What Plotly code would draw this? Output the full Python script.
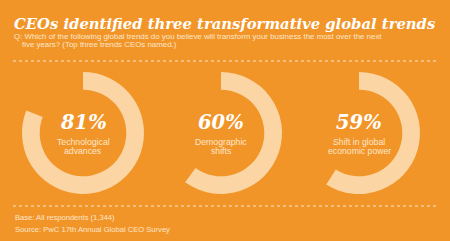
import plotly.graph_objects as go

W, H = 450, 241
BG = "#F29528"
RING = "#FBD5A3"
LIGHT = "#FDE6CB"

title = "CEOs identified three transformative global trends"
question = ["Q: Which of the following global trends do you believe will transform your business the most over the next",
            "five years? (Top three trends CEOs named.)"]
trends = [["Technological", "advances"], ["Demographic", "shifts"], ["Shift in global", "economic power"]]
percents = [81, 60, 59]
footer = ["Base: All respondents (1,344)", "Source: PwC 17th Annual Global CEO Survey"]

centers_x = [83, 221, 359]
cy = 133
R = 61

def px(x):
    return x / W

def py(y):
    return 1 - y / H

fig = go.Figure()
for i, (p, cx) in enumerate(zip(percents, centers_x)):
    fig.add_trace(go.Pie(
        values=[p, 100 - p],
        marker=dict(colors=[RING, "rgba(0,0,0,0)"], line=dict(width=0)),
        hole=0.71, sort=False, direction="clockwise", rotation=0,
        textinfo="none", hoverinfo="skip", showlegend=False,
        domain=dict(x=[px(cx - R), px(cx + R)], y=[py(cy + R), py(cy - R)]),
    ))
    fig.add_annotation(x=px(cx), y=py(122.5), xref="paper", yref="paper",
                       text=f"<b><i>{p}%</i></b>", showarrow=False,
                       font=dict(family="DejaVu Serif", size=19.5, color="white"),
                       xanchor="center", yanchor="middle")
    for k, line in enumerate(trends[i]):
        fig.add_annotation(x=px(cx), y=py(142 + 8.7 * k), xref="paper", yref="paper",
                           text=line, showarrow=False,
                           font=dict(family="Liberation Sans", size=8.7, color=LIGHT),
                           xanchor="center", yanchor="middle")

fig.add_annotation(x=px(12), y=py(23.5), xref="paper", yref="paper",
                   text=f"<b><i>{title}</i></b>", showarrow=False,
                   font=dict(family="DejaVu Serif", size=14.8, color="white"),
                   xanchor="left", yanchor="middle")
fig.add_annotation(x=px(12), y=py(36), xref="paper", yref="paper",
                   text=question[0], showarrow=False,
                   font=dict(family="Liberation Sans", size=7.9, color=LIGHT),
                   xanchor="left", yanchor="middle")
fig.add_annotation(x=px(20), y=py(44), xref="paper", yref="paper",
                   text=question[1], showarrow=False,
                   font=dict(family="Liberation Sans", size=7.9, color=LIGHT),
                   xanchor="left", yanchor="middle")
for j, t in enumerate(footer):
    fig.add_annotation(x=px(13), y=py(217 + 12 * j), xref="paper", yref="paper",
                       text=t, showarrow=False,
                       font=dict(family="Liberation Sans", size=7.6, color=LIGHT),
                       xanchor="left", yanchor="middle")

for yy in [61, 206]:
    fig.add_shape(type="line", xref="paper", yref="paper",
                  x0=px(13), x1=px(437), y0=py(yy), y1=py(yy),
                  line=dict(color=LIGHT, width=1, dash="dot"))

fig.update_layout(width=W, height=H, margin=dict(l=0, r=0, t=0, b=0),
                  paper_bgcolor=BG, plot_bgcolor=BG)
fig.write_html("out.html")
